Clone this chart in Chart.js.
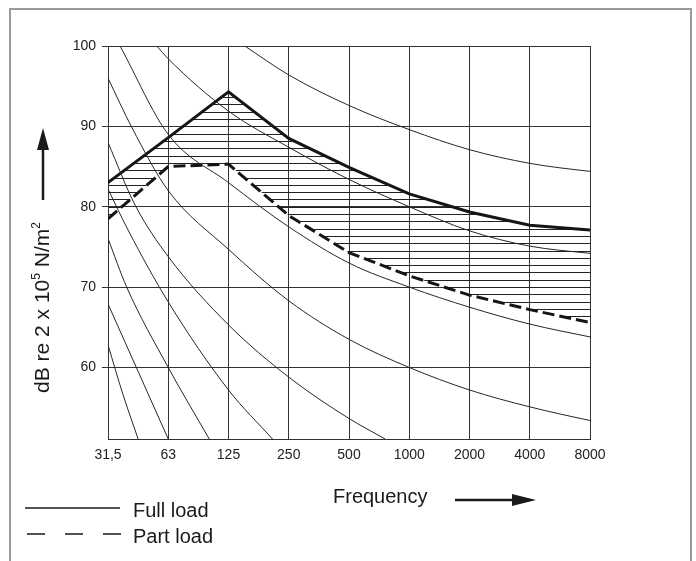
<!DOCTYPE html>
<html>
<head>
<meta charset="utf-8">
<script src="https://cdn.jsdelivr.net/npm/chart.js@4/dist/chart.umd.min.js"></script>
<style>
  body { margin: 0; background: #fff; }
  #wrap { position: relative; width: 696px; height: 561px; overflow: hidden; }
  #frame { position: absolute; left: 9px; top: 8px; width: 679px; height: 570px; border: 2px solid #9a9a9a; border-bottom: none; }
  canvas { position: absolute; left: 0; top: 0; }
</style>
</head>
<body>
<div id="wrap"><div id="frame"></div><canvas id="c" width="696" height="561"></canvas></div>
<script>
// octave band centre frequencies (evenly spaced on x)
const freqLabels = ['31,5', '63', '125', '250', '500', '1000', '2000', '4000', '8000']
const dbTicks = [60, 70, 80, 90, 100]
const yMin = 51.1
const yMax = 100

const fullLoad = [83.0, 88.6, 94.3, 88.5, 84.9, 81.6, 79.35, 77.7, 77.1]
const partLoad = [78.5, 85.0, 85.3, 78.9, 74.3, 71.4, 69.0, 67.2, 65.6]

// background rating curves, [octave index, dB]
const curve1 = [[2.27, 100], [3, 96.4], [4, 92.6], [5, 89.6], [6, 87.1], [7, 85.4], [8, 84.4], [8.13, 84.3]]
const curve2 = [[0.81, 100], [1, 98.4], [2, 91.9], [3, 87.4], [4, 83.4], [5, 80.0], [6, 77.0], [7, 75.1], [8, 74.2], [8.13, 74.1]]
const curve3 = [[0.2, 100], [1, 89.0], [2, 83.0], [3, 77.5], [4, 73.0], [5, 70.0], [6, 67.5], [7, 65.4], [8, 63.8], [8.13, 63.6]]
const curve4 = [[0, 96], [0.4, 89.8], [1, 82.0], [2, 74.7], [3, 68.3], [4, 63.5], [5, 60.0], [6, 57.2], [7, 55.1], [8, 53.4], [8.13, 53.2]]
const curve5 = [[0, 88], [0.45, 80.2], [1, 73.8], [2, 65.3], [3, 58.8], [4, 53.65], [4.6, 51.1]]
const curve6 = [[0, 82.2], [0.34, 77], [1, 68.15], [2, 57.2], [2.73, 51.1]]
const curve7 = [[0, 76.05], [0.31, 70], [1, 60], [1.68, 51.1]]
const curve8 = [[0, 67.9], [0.5, 59.5], [1, 51.1]]
const curve9 = [[0, 62.8], [0.25, 56.6], [0.5, 51.1]]

const tickFont = { family: "'Liberation Sans', Arial, sans-serif", size: 14 }
const textFont = "'Liberation Sans', Arial, sans-serif"

function thin(pts) {
    return {
        data: pts.map(p => ({x: p[0], y: p[1]})),
        borderColor: '#262626',
        borderWidth: 1,
        pointRadius: 0,
        cubicInterpolationMode: 'monotone',
        clip: {left: 0, top: 0, right: 10, bottom: 0},
        fill: false
    }
}

// horizontal hatching between full load and part load
const hatchPlugin = {
    id: 'hatch',
    beforeDatasetsDraw(chart) {
        const ctx = chart.ctx
        const area = chart.chartArea
        const xs = chart.scales.x, ys = chart.scales.y
        ctx.save()
        ctx.beginPath()
        ctx.rect(area.left, area.top, area.right - area.left, area.bottom - area.top)
        ctx.clip()
        ctx.beginPath()
        fullLoad.forEach((v, i) => {
            const px = xs.getPixelForValue(i), py = ys.getPixelForValue(v)
            if (i === 0) ctx.moveTo(px, py); else ctx.lineTo(px, py)
        })
        for (let i = partLoad.length - 1; i >= 0; i--) {
            ctx.lineTo(xs.getPixelForValue(i), ys.getPixelForValue(partLoad[i]))
        }
        ctx.closePath()
        ctx.clip()
        ctx.strokeStyle = '#222'
        ctx.lineWidth = 1
        for (let k = 0; k < 60; k++) {
            const v = yMax - k * 10 / 11
            const py = Math.round(ys.getPixelForValue(v)) + 0.5
            ctx.beginPath()
            ctx.moveTo(area.left, py)
            ctx.lineTo(area.right, py)
            ctx.stroke()
        }
        ctx.restore()
    }
}

function arrowHead(ctx, tipX, tipY, dir, len, half) {
    ctx.beginPath()
    if (dir === 'up') {
        ctx.moveTo(tipX, tipY)
        ctx.lineTo(tipX - half, tipY + len)
        ctx.lineTo(tipX + half, tipY + len)
    } else {
        ctx.moveTo(tipX, tipY)
        ctx.lineTo(tipX - len, tipY - half)
        ctx.lineTo(tipX - len, tipY + half)
    }
    ctx.closePath()
    ctx.fill()
}

const decoPlugin = {
    id: 'deco',
    afterDraw(chart) {
        const ctx = chart.ctx
        ctx.save()
        ctx.fillStyle = '#1a1a1a'
        ctx.strokeStyle = '#1a1a1a'

        // y title, rotated, with superscripts
        ctx.save()
        ctx.translate(43, 393)
        ctx.rotate(-Math.PI / 2)
        ctx.textBaseline = 'middle'
        ctx.textAlign = 'left'
        let x = 0
        const parts = [['dB re 2 x 10', 21, 0], ['5', 12, -6], [' N/m', 21, 0], ['2', 12, -6]]
        parts.forEach(p => {
            ctx.font = p[1] + 'px ' + textFont
            ctx.fillText(p[0], x, p[2])
            x += ctx.measureText(p[0]).width
        })
        ctx.restore()

        // y arrow
        ctx.lineWidth = 2.5
        ctx.beginPath()
        ctx.moveTo(43, 200)
        ctx.lineTo(43, 145)
        ctx.stroke()
        arrowHead(ctx, 43, 128, 'up', 22, 6)

        // x title and arrow
        ctx.font = '20px ' + textFont
        ctx.textBaseline = 'middle'
        ctx.textAlign = 'left'
        ctx.fillText('Frequency', 333, 497)
        ctx.beginPath()
        ctx.moveTo(455, 500)
        ctx.lineTo(515, 500)
        ctx.stroke()
        arrowHead(ctx, 536, 500, 'right', 24, 6)

        // legend
        ctx.lineWidth = 1.3
        ctx.beginPath()
        ctx.moveTo(25, 508)
        ctx.lineTo(120, 508)
        ctx.stroke()
        ctx.setLineDash([18, 20])
        ctx.beginPath()
        ctx.moveTo(27, 534)
        ctx.lineTo(121, 534)
        ctx.stroke()
        ctx.setLineDash([])
        ctx.fillText('Full load', 133, 511)
        ctx.fillText('Part load', 133, 537)
        ctx.restore()
    }
}

const curves = [curve1, curve2, curve3, curve4, curve5, curve6, curve7, curve8, curve9]

new Chart(document.getElementById('c'), {
    type: 'line',
    data: {
        datasets: curves.map(thin).concat([
            {
                label: 'Full load',
                data: fullLoad.map((v, i) => ({x: i, y: v})),
                borderColor: '#151515',
                borderWidth: 3,
                pointRadius: 0,
                tension: 0,
                fill: false
            },
            {
                label: 'Part load',
                data: partLoad.map((v, i) => ({x: i, y: v})),
                borderColor: '#151515',
                borderWidth: 3,
                borderDash: [12, 5],
                pointRadius: 0,
                tension: 0,
                fill: false
            }
        ])
    },
    options: {
        responsive: false,
        animation: false,
        events: [],
        layout: {padding: {left: 0, top: 46, right: 106, bottom: 0}},
        plugins: {legend: {display: false}, tooltip: {enabled: false}},
        scales: {
            x: {
                type: 'linear',
                min: 0,
                max: 8,
                afterBuildTicks: s => { s.ticks = freqLabels.map((l, i) => ({value: i})) },
                afterFit: s => { s.height = 122 },
                grid: {color: '#333', lineWidth: 1, drawTicks: false},
                border: {color: '#333', width: 1},
                ticks: {
                    callback: v => freqLabels[v],
                    color: '#222',
                    font: tickFont,
                    padding: 8,
                    maxRotation: 0,
                    autoSkip: false
                }
            },
            y: {
                type: 'linear',
                min: yMin,
                max: yMax,
                afterBuildTicks: s => { s.ticks = dbTicks.map(v => ({value: v})) },
                afterFit: s => { s.width = 108 },
                grid: {color: '#333', lineWidth: 1, drawTicks: true, tickLength: 6},
                border: {color: '#333', width: 1},
                ticks: {color: '#222', font: tickFont, padding: 6}
            }
        }
    },
    plugins: [hatchPlugin, decoPlugin]
})
</script>
</body>
</html>
